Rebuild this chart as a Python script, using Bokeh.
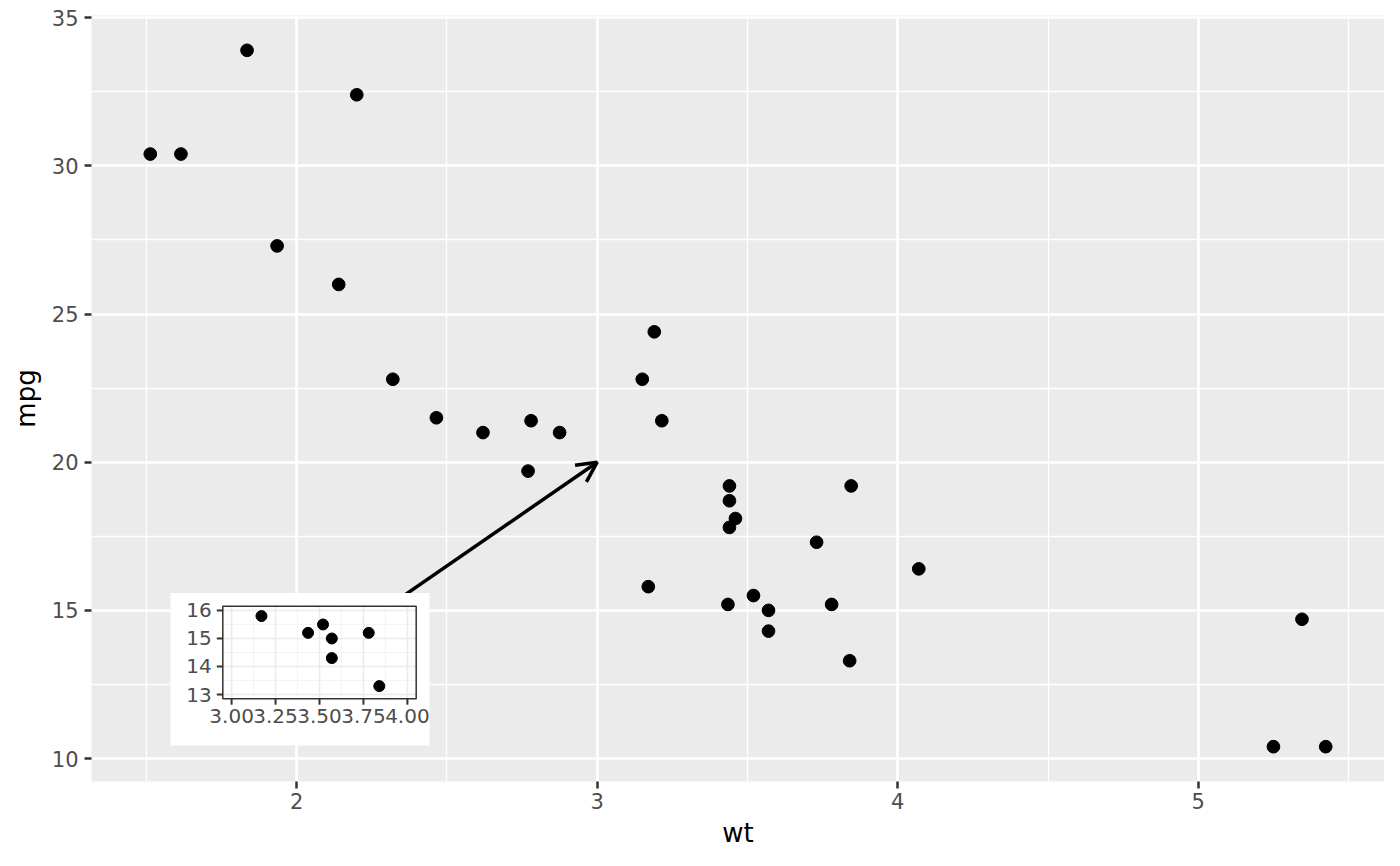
import numpy as np
from bokeh.plotting import figure
from bokeh.models import Range1d, FixedTicker, Arrow, OpenHead, BoxAnnotation
from bokeh.core.properties import value
from bokeh.embed import file_html
from bokeh.resources import INLINE

# mtcars: weight (1000 lbs) and miles per gallon
wt = [2.620, 2.875, 2.320, 3.215, 3.440, 3.460, 3.570, 3.190, 3.150, 3.440,
      3.440, 4.070, 3.730, 3.780, 5.250, 5.424, 5.345, 2.200, 1.615, 1.835,
      2.465, 3.520, 3.435, 3.840, 3.845, 1.935, 2.140, 1.513, 3.170, 2.770,
      3.570, 2.780]
mpg = [21.0, 21.0, 22.8, 21.4, 18.7, 18.1, 14.3, 24.4, 22.8, 19.2,
       17.8, 16.4, 17.3, 15.2, 10.4, 10.4, 14.7, 32.4, 30.4, 33.9,
       21.5, 15.5, 15.2, 13.3, 19.2, 27.3, 26.0, 30.4, 15.8, 19.7,
       15.0, 21.4]

x_ticks = [2, 3, 4, 5]
x_minor = [1.5, 2.5, 3.5, 4.5, 5.5]
y_ticks = [10, 15, 20, 25, 30, 35]
y_minor = [12.5, 17.5, 22.5, 27.5, 32.5]

inset_xlim = [3.0, 4.0]
inset_ylim = [13.0, 16.0]
inset_x_ticks = [3.0, 3.25, 3.5, 3.75, 4.0]
inset_x_minor = [3.125, 3.375, 3.625, 3.875]
inset_y_ticks = [13, 14, 15, 16]
inset_y_minor = [13.5, 14.5, 15.5]

arrow_start = [2.0, 13.0]
arrow_end = [3.0, 20.0]

FONT = "DejaVu Sans"

# ---- layout constants (pixels) ----
W, H = 1384, 850
BL, BR, BT, BB = 91, 0, 15, 67
FW, FH = W - BL - BR, H - BT - BB
# inset panel / inset box, in frame pixels (x from frame left, y up from frame bottom)
IP_L, IP_R, IP_B, IP_T = 131.3, 324.7, 83.0, 175.7
IB_L, IB_R, IB_B, IB_T = 79.0, 338.0, 36.0, 189.0
TICK = 6


def expand(lo, hi, f=0.05):
    d = (hi - lo) * f
    return lo - d, hi + d


# ---------------- main plot ----------------
p = figure(width=W, height=H,
           x_range=Range1d(*expand(min(wt), max(wt))),
           y_range=Range1d(*expand(min(mpg), max(mpg))),
           output_backend="svg", toolbar_location=None,
           min_border_left=BL, min_border_right=BR, min_border_top=BT,
           min_border_bottom=BB,
           background_fill_color="#EBEBEB", border_fill_color="white",
           outline_line_color=None)

p.xaxis.ticker = FixedTicker(ticks=x_ticks, minor_ticks=x_minor)
p.yaxis.ticker = FixedTicker(ticks=y_ticks, minor_ticks=y_minor)
p.xgrid.ticker = FixedTicker(ticks=x_ticks, minor_ticks=x_minor)
p.ygrid.ticker = FixedTicker(ticks=y_ticks, minor_ticks=y_minor)
for g in (p.xgrid, p.ygrid):
    g.grid_line_color = "white"
    g.grid_line_width = 2.6
    g.minor_grid_line_color = "white"
    g.minor_grid_line_width = 1.3

for ax in (p.xaxis, p.yaxis):
    ax.axis_line_color = None
    ax.minor_tick_line_color = None
    ax.major_tick_in = 0
    ax.major_tick_out = 7
    ax.major_tick_line_width = 2.5
    ax.major_tick_line_color = "#333333"
    ax.major_label_text_color = "#4D4D4D"
    ax.major_label_text_font = FONT
    ax.major_label_text_font_size = "21px"
    ax.axis_label_text_font = FONT
    ax.axis_label_text_font_size = "26px"
    ax.axis_label_text_font_style = "normal"
    ax.axis_label_text_color = "black"

p.xaxis.axis_label = "wt"
p.yaxis.axis_label = "mpg"
p.xaxis.major_label_standoff = 4
p.yaxis.major_label_standoff = 6
p.xaxis.axis_label_standoff = 6
p.yaxis.axis_label_standoff = 8

p.scatter(wt, mpg, size=12.7, color="black")

p.add_layout(Arrow(end=OpenHead(size=20, line_width=3.5, line_color="black"),
                   x_start=arrow_start[0], y_start=arrow_start[1],
                   x_end=arrow_end[0], y_end=arrow_end[1],
                   line_width=3.5, line_color="black"))

# ---------------- inset (own scales via extra ranges) ----------------
ix_lo, ix_hi = expand(*inset_xlim)
iy_lo, iy_hi = expand(*inset_ylim)
kx = (IP_R - IP_L) / (ix_hi - ix_lo)
ky = (IP_T - IP_B) / (iy_hi - iy_lo)
ix0 = ix_lo - IP_L / kx
iy0 = iy_lo - IP_B / ky
p.extra_x_ranges = {"ix": Range1d(ix0, ix0 + FW / kx)}
p.extra_y_ranges = {"iy": Range1d(iy0, iy0 + FH / ky)}
R = dict(x_range_name="ix", y_range_name="iy", level="overlay")

p.add_layout(BoxAnnotation(left=ix_lo - (IP_L - IB_L) / kx,
                           right=ix_hi + (IB_R - IP_R) / kx,
                           bottom=iy_lo - (IP_B - IB_B) / ky,
                           top=iy_hi + (IB_T - IP_T) / ky,
                           x_range_name="ix", y_range_name="iy",
                           fill_color="white", fill_alpha=1.0,
                           line_color=None))

# inset grid
p.segment(x0=inset_x_minor, y0=[iy_lo] * len(inset_x_minor),
          x1=inset_x_minor, y1=[iy_hi] * len(inset_x_minor),
          line_color="#F2F2F2", line_width=0.9, **R)
p.segment(x0=[ix_lo] * len(inset_y_minor), y0=inset_y_minor,
          x1=[ix_hi] * len(inset_y_minor), y1=inset_y_minor,
          line_color="#F2F2F2", line_width=0.9, **R)
p.segment(x0=inset_x_ticks, y0=[iy_lo] * len(inset_x_ticks),
          x1=inset_x_ticks, y1=[iy_hi] * len(inset_x_ticks),
          line_color="#EBEBEB", line_width=1.6, **R)
p.segment(x0=[ix_lo] * len(inset_y_ticks), y0=inset_y_ticks,
          x1=[ix_hi] * len(inset_y_ticks), y1=inset_y_ticks,
          line_color="#EBEBEB", line_width=1.6, **R)

# inset points
wt_a = np.array(wt)
mpg_a = np.array(mpg)
sel = ((wt_a >= inset_xlim[0]) & (wt_a <= inset_xlim[1]) &
       (mpg_a >= inset_ylim[0]) & (mpg_a <= inset_ylim[1]))
p.scatter(wt_a[sel], mpg_a[sel], size=11, color="black", **R)

# inset panel border
p.quad(left=[ix_lo], right=[ix_hi], bottom=[iy_lo], top=[iy_hi],
       fill_color=None, line_color="#333333", line_width=1.5, **R)

# inset axis ticks
p.segment(x0=inset_x_ticks, y0=[iy_lo] * len(inset_x_ticks),
          x1=inset_x_ticks, y1=[iy_lo - TICK / ky] * len(inset_x_ticks),
          line_color="#333333", line_width=2, **R)
p.segment(x0=[ix_lo] * len(inset_y_ticks), y0=inset_y_ticks,
          x1=[ix_lo - TICK / kx] * len(inset_y_ticks), y1=inset_y_ticks,
          line_color="#333333", line_width=2, **R)

# inset tick labels
p.text(x=inset_x_ticks, y=[iy_lo - (TICK + 4) / ky] * len(inset_x_ticks),
       text=[f"{t:.2f}" for t in inset_x_ticks],
       text_align="center", text_baseline="top",
       text_font=value(FONT), text_font_size="20px", text_color="#4D4D4D", **R)
p.text(x=[ix_lo - (TICK + 5) / kx] * len(inset_y_ticks), y=inset_y_ticks,
       text=[f"{t:g}" for t in inset_y_ticks],
       text_align="right", text_baseline="middle",
       text_font=value(FONT), text_font_size="20px", text_color="#4D4D4D", **R)

open("out.html", "w").write(file_html(p, INLINE))
